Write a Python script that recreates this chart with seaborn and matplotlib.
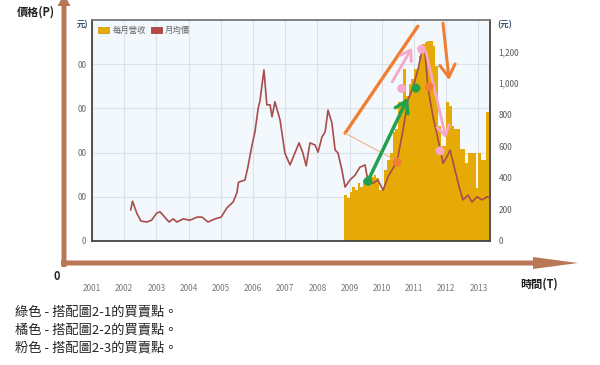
import numpy as np
import pandas as pd
import matplotlib
matplotlib.use("Agg")
import matplotlib.pyplot as plt
import seaborn as sns
from matplotlib.patches import FancyArrow, Patch

sns.set_style("white")
plt.rcParams['font.family'] = ['Noto Sans CJK TC', 'DejaVu Sans']

# ---------------- data ----------------
price_years = [2002.20, 2002.26, 2002.39, 2002.52, 2002.70, 2002.85,
               2003.01, 2003.11, 2003.20, 2003.39, 2003.52, 2003.64, 2003.83,
               2004.04, 2004.26, 2004.42, 2004.60, 2004.82,
               2005.01, 2005.19, 2005.38, 2005.50, 2005.55, 2005.75, 2005.84, 2005.97,
               2006.06, 2006.16, 2006.22, 2006.34, 2006.43, 2006.53, 2006.59, 2006.68, 2006.84, 2006.99,
               2007.15, 2007.30, 2007.43, 2007.55, 2007.65, 2007.77, 2007.93,
               2008.02, 2008.14, 2008.24, 2008.33, 2008.45, 2008.55, 2008.64, 2008.76, 2008.86,
               2009.01, 2009.17, 2009.32, 2009.48, 2009.57, 2009.73, 2009.88,
               2010.04, 2010.19, 2010.35, 2010.47, 2010.66, 2010.81, 2010.97,
               2011.12, 2011.25, 2011.34, 2011.43, 2011.59, 2011.75, 2011.90,
               2012.02, 2012.12, 2012.27, 2012.43, 2012.52, 2012.68, 2012.80, 2012.96,
               2013.11, 2013.27, 2013.36]
price_values = [70, 90, 63, 45, 43, 47,
                63, 66, 59, 43, 50, 43, 50,
                47, 54, 54, 43, 50,
                54, 75, 88, 109, 133, 138, 167, 217,
                247, 300, 319, 387, 308, 308, 281, 315, 274, 199,
                172, 199, 222, 199, 170, 222, 217,
                201, 235, 247, 296, 267, 206, 199, 161, 122,
                138, 149, 167, 172, 135, 131, 138,
                115, 145, 165, 179, 251, 319, 348,
                387, 432, 427, 348, 281, 229, 176,
                190, 206, 161, 115, 93, 104, 88, 100,
                93, 100, 97]

# monthly revenue, Nov 2008 .. Apr 2013
revenue_months = pd.period_range("2008-11", "2013-04", freq="M")
revenue_values = [293, 274, 310, 344, 325, 369, 344, 389, 380, 380,
                  408, 420, 398, 325, 330, 452, 516, 560, 688, 707,
                  879, 879, 1089, 917, 994, 1025, 1089, 1089, 1172, 1248,
                  1261, 1267, 1267, 1236, 1108, 726, 599, 599, 879, 854,
                  726, 707, 707, 580, 580, 497, 560, 560, 560, 338,
                  560, 516, 516, 815]

green_pts_x = [2009.57, 2011.06]
green_pts_y = [135, 346]
orange_pts_x = [2010.48, 2011.47]
orange_pts_y = [179, 349]
pink_pts_x = [2010.62, 2011.24, 2011.81]
pink_pts_y = [345, 434, 204]

year_ticks = list(range(2001, 2014))
year_labels = [str(y) for y in year_ticks]
left_ticks = [0, 100, 200, 300, 400]
left_labels = ["0", "00", "00", "00", "00"]
right_ticks = [0, 200, 400, 600, 800, 1000, 1200]
right_labels = ["0", "200", "400", "600", "800", "1,000", "1,200"]
legend_labels = ["每月營收", "月均價"]
notes = ["綠色 - 搭配圖2-1的買賣點。", "橘色 - 搭配圖2-2的買賣點。", "粉色 - 搭配圖2-3的買賣點。"]

# ---------------- style ----------------
GOLD = "#e6aa07"
LINE = "#a84c4c"
GREEN = "#22a04b"
ORANGE = "#f07f35"
PINK = "#f5a8c8"
BROWN = "#b97758"
UNIT = "#34506e"

W, H = 600, 365
fig = plt.figure(figsize=(6, 3.65), dpi=100)

def fx(x):
    return x / W

def fy(y):
    return 1 - y / H

L, R, T, B = 92, 490, 20, 241
ax = fig.add_axes([fx(L), fy(B), (R - L) / W, (B - T) / H])
ax.set_facecolor("#f3f8fc")
ax2 = ax.twinx()
ax3 = ax.twinx()

# bars (right axis)
bar_x = revenue_months.year + (revenue_months.month - 0.5) / 12
sns.barplot(x=np.asarray(bar_x, dtype=float), y=revenue_values, native_scale=True,
            width=1.0, color=GOLD, saturation=1, linewidth=0, ax=ax2)

# price line
sns.lineplot(x=price_years, y=price_values, ax=ax3, color=LINE, lw=1.2)

# axes scales
ax.set_xlim(2001, 2013.36)
ax.set_ylim(0, 500)
ax2.set_ylim(0, 1400)
ax3.set_ylim(0, 500)
ax2.set_xlim(2001, 2013.36)

ax.set_xticks(year_ticks)
ax.set_xticklabels(year_labels)
ax.set_yticks(left_ticks)
ax.set_yticklabels(left_labels)
ax.grid(True, color="#dbe2ea", lw=0.8)
ax.set_axisbelow(True)
ax.tick_params(axis="x", length=0, pad=31, labelsize=6, labelcolor="#7a7a7a")
ax.tick_params(axis="y", length=0, pad=4, labelsize=6, labelcolor="#6a6a6a")
for s in ax.spines.values():
    s.set_visible(False)

ax2.set_yticks(right_ticks)
ax2.set_yticklabels(right_labels)
ax2.tick_params(axis="y", length=0, pad=6, labelsize=6, labelcolor="#5a5a5a")
ax2.set_xlabel("")
ax2.set_ylabel("")
for name, s in ax2.spines.items():
    s.set_visible(True)
    s.set_color("#444444" if name != "top" else "#777777")
    s.set_linewidth(1.3)

ax3.set_yticks([])
ax3.set_xlabel("")
ax3.set_ylabel("")
for s in ax3.spines.values():
    s.set_visible(False)

# buy / sell points
for xs, ys, c in [(green_pts_x, green_pts_y, GREEN),
                  (orange_pts_x, orange_pts_y, ORANGE),
                  (pink_pts_x, pink_pts_y, PINK)]:
    sns.scatterplot(x=xs, y=ys, ax=ax3, color=c, s=42, edgecolor="none",
                    zorder=6, clip_on=False, legend=False)

# hand-drawn style annotations
def arrow(p0, p1, color, lw, style):
    ax3.annotate("", xy=p1, xytext=p0, xycoords="data", textcoords="data",
                 arrowprops=dict(arrowstyle=style, color=color, lw=lw,
                                 shrinkA=0, shrinkB=0), annotation_clip=False, zorder=5)

arrow((2008.86, 244), (2011.12, 486), ORANGE, 2.4, "-")
arrow((2008.86, 244), (2010.47, 181), "#f3a77a", 0.7, "-")
arrow((2011.90, 493), (2012.09, 364), ORANGE, 2.2, "->,head_length=0.9,head_width=0.55")
arrow((2009.57, 136), (2010.81, 324), GREEN, 2.5, "->,head_length=0.8,head_width=0.5")
arrow((2010.32, 360), (2010.94, 437), PINK, 2.0, "->,head_length=0.7,head_width=0.45")
arrow((2011.37, 428), (2011.99, 233), PINK, 2.0, "->,head_length=0.7,head_width=0.45")

# legend
handles = [Patch(facecolor=GOLD, edgecolor="#c8920a", lw=0.5),
           Patch(facecolor="#b84848", edgecolor="#8e3434", lw=0.5)]
ax3.legend(handles, legend_labels, loc="upper left", bbox_to_anchor=(0.0, 1.0),
           frameon=False, ncol=2, fontsize=6, handlelength=1.3, handleheight=0.7,
           handletextpad=0.4, columnspacing=0.6, borderaxespad=0.35, labelcolor="#666666")

# overlay for outer arrows and texts
ov = fig.add_axes([0, 0, 1, 1])
ov.set_xlim(0, W)
ov.set_ylim(H, 0)
ov.axis("off")
ov.add_patch(FancyArrow(64, 267, 0, -273, width=5, head_width=13, head_length=12,
                        length_includes_head=True, color=BROWN, lw=0))
ov.add_patch(FancyArrow(61, 263, 517, 0, width=5, head_width=12, head_length=45,
                        length_includes_head=True, color=BROWN, lw=0))

ov.text(36, 12, "價格(P)", ha="center", va="center", fontsize=8, fontweight="bold", color="#222222")
ov.text(88, 25, "元)", ha="right", va="center", fontsize=6, fontweight="bold", color=UNIT)
ov.text(497, 25, "(元)", ha="left", va="center", fontsize=6, fontweight="bold", color=UNIT)
ov.text(57, 276, "0", ha="center", va="center", fontsize=8, fontweight="bold", color="#222222")
ov.text(539, 284, "時間(T)", ha="center", va="center", fontsize=8, fontweight="bold", color="#222222")
for i, line in enumerate(notes):
    ov.text(15, 312 + 18 * i, line, ha="left", va="center", fontsize=9.5, color="#222222")

fig.savefig("out.png", dpi=100)
